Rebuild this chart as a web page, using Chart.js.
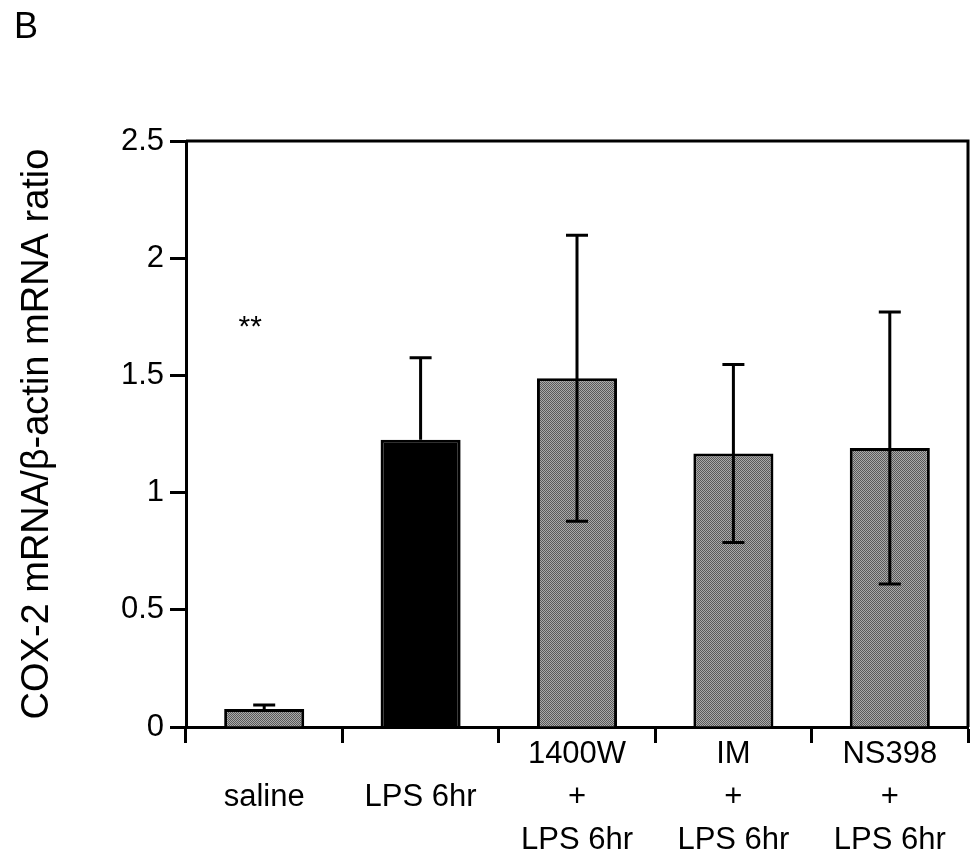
<!DOCTYPE html>
<html>
<head>
<meta charset="utf-8">
<script src="https://cdn.jsdelivr.net/npm/chart.js@4.4.0/dist/chart.umd.min.js"></script>
<style>
  html, body { margin: 0; padding: 0; background: #fff; }
  canvas { display: block; }
</style>
</head>
<body>
<canvas id="chart" width="971" height="861"></canvas>
<script>
// values
const categories = [['', 'saline'], ['', 'LPS 6hr'], ['1400W', '+', 'LPS 6hr'], ['IM', '+', 'LPS 6hr'], ['NS398', '+', 'LPS 6hr']];
const means = [0.077, 1.225, 1.488, 1.167, 1.19];
const errors = [0.017, 0.35, 0.61, 0.38, 0.58];
const showLower = [false, false, true, true, true];
const yTicks = [0, 0.5, 1, 1.5, 2, 2.5];

const FONT = "'Liberation Sans', Arial, sans-serif";
const ctx = document.getElementById('chart').getContext('2d');

// grey stipple fill like the original
const pc = document.createElement('canvas');
pc.width = 2; pc.height = 2;
const pg = pc.getContext('2d');
pg.fillStyle = '#aaaaaa'; pg.fillRect(0, 0, 2, 2);
pg.fillStyle = '#5a5a5a'; pg.fillRect(0, 0, 1, 1); pg.fillRect(1, 1, 1, 1);
const stipple = ctx.createPattern(pc, 'repeat');

const frame = {
  id: 'frame',
  afterDatasetsDraw(chart) {
    const { ctx, chartArea: a } = chart;
    ctx.save();
    ctx.strokeStyle = '#000';
    ctx.lineWidth = 3;
    ctx.beginPath();
    ctx.moveTo(a.left, a.top);
    ctx.lineTo(a.right, a.top);
    ctx.lineTo(a.right, a.bottom);
    ctx.stroke();
    ctx.restore();
  }
};

const errorBars = {
  id: 'errorBars',
  afterDatasetsDraw(chart) {
    const { ctx, scales: { y } } = chart;
    const bars = chart.getDatasetMeta(0).data;
    ctx.save();
    ctx.strokeStyle = '#000';
    ctx.lineWidth = 3;
    bars.forEach((bar, i) => {
      const hi = y.getPixelForValue(means[i] + errors[i]);
      const lo = showLower[i] ? y.getPixelForValue(means[i] - errors[i]) : y.getPixelForValue(means[i]);
      ctx.beginPath();
      ctx.moveTo(bar.x, lo);
      ctx.lineTo(bar.x, hi);
      ctx.moveTo(bar.x - 11, hi);
      ctx.lineTo(bar.x + 11, hi);
      if (showLower[i]) {
        ctx.moveTo(bar.x - 11, lo);
        ctx.lineTo(bar.x + 11, lo);
      }
      ctx.stroke();
    });
    ctx.restore();
  }
};

const extras = {
  id: 'extras',
  afterDraw(chart) {
    const { ctx, scales: { x, y } } = chart;
    ctx.save();
    ctx.fillStyle = '#000';
    ctx.textAlign = 'left';
    ctx.textBaseline = 'alphabetic';
    ctx.font = '36px ' + FONT;
    ctx.fillText('B', 14, 38);
    ctx.textAlign = 'center';
    ctx.font = '30px ' + FONT;
    ctx.fillText('**', x.getPixelForValue(0) - 14, y.getPixelForValue(1.67));
    ctx.restore();
  }
};

new Chart(ctx, {
  type: 'bar',
  data: {
    labels: categories,
    datasets: [{
      data: means,
      backgroundColor: means.map((v, i) => i === 1 ? '#000' : stipple),
      borderColor: '#000',
      borderWidth: 3,
      barPercentage: 0.512,
      categoryPercentage: 1
    }]
  },
  options: {
    responsive: false,
    animation: false,
    devicePixelRatio: 1,
    layout: { padding: { top: 141, right: 3, left: 0, bottom: 0 } },
    plugins: { legend: { display: false }, tooltip: { enabled: false } },
    scales: {
      x: {
        grid: { offset: true, drawOnChartArea: false, tickLength: 16, tickWidth: 3, tickColor: '#000' },
        border: { display: true, width: 3, color: '#000' },
        ticks: { color: '#000', font: { family: FONT, size: 31, lineHeight: 1.39 }, padding: -10, maxRotation: 0, autoSkip: false },
        afterFit(s) { s.height = 134; }
      },
      y: {
        min: 0,
        max: 2.5,
        afterBuildTicks(s) { s.ticks = yTicks.map(v => ({ value: v })); },
        ticks: { color: '#000', font: { family: FONT, size: 31 }, padding: 6, callback: v => String(v) },
        grid: { drawOnChartArea: false, tickLength: 16, tickWidth: 3, tickColor: '#000' },
        border: { display: true, width: 3, color: '#000' },
        title: {
          display: true,
          text: 'COX-2 mRNA/\u03B2-actin mRNA ratio',
          color: '#000',
          font: { family: FONT, size: 38 },
          padding: { top: 15, bottom: 0 }
        },
        afterFit(s) { s.width = 186; }
      }
    }
  },
  plugins: [frame, errorBars, extras]
});
</script>
</body>
</html>
